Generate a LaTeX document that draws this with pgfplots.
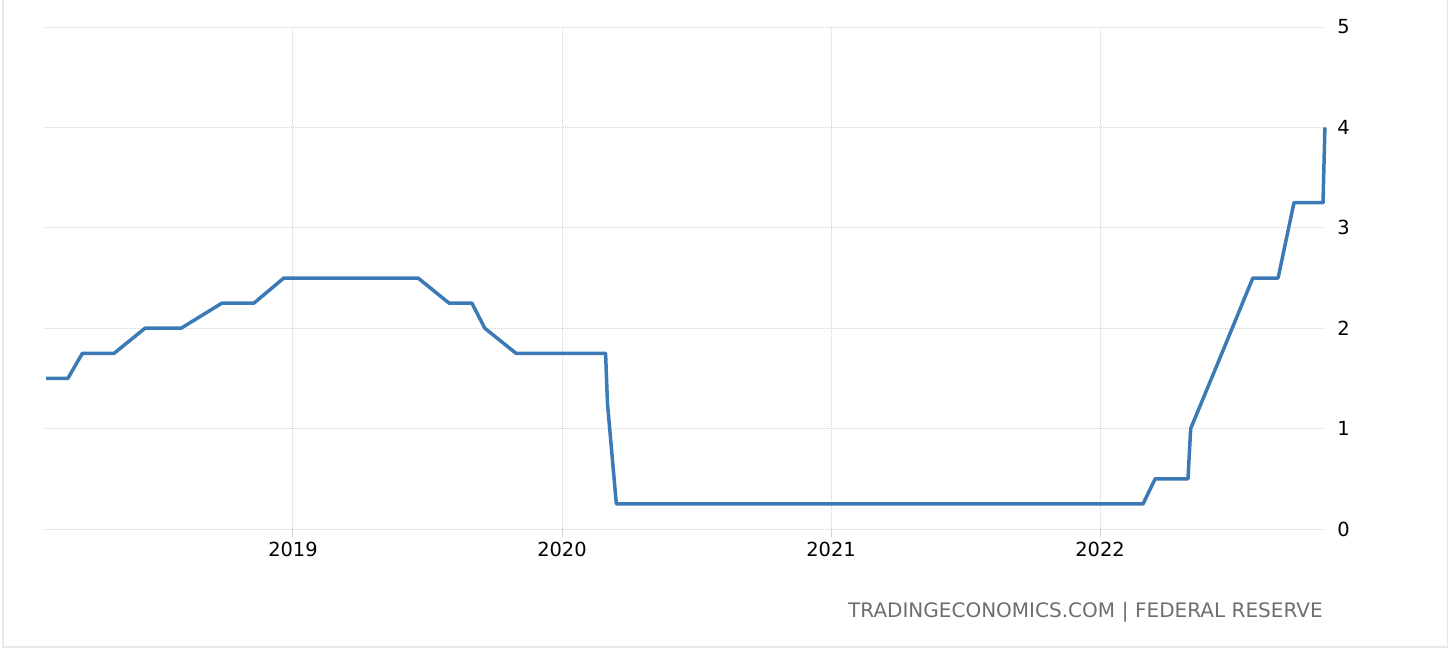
\documentclass[border=0pt]{standalone}
\usepackage{pgfplots}
\pgfplotsset{compat=1.18}
\usepackage{fontspec}
\setmainfont{DejaVu Sans}
\definecolor{teline}{RGB}{59,122,182}
\definecolor{tegrid}{RGB}{212,212,212}
\definecolor{tetext}{RGB}{110,110,110}
\definecolor{teframe}{RGB}{232,232,232}
\begin{document}
\begin{tikzpicture}
\useasboundingbox (0pt,0pt) rectangle (728pt,-330pt);
\draw[teframe, line width=0.8pt] (1.5pt,2pt) -- (1.5pt,-323.5pt) -- (723.8pt,-323.5pt) -- (723.8pt,2pt);
\begin{axis}[
  at={(22.5pt,-264.5pt)}, anchor=south west,
  scale only axis, width=640pt, height=251pt,
  xmin=2018.0781, xmax=2022.8364, ymin=0, ymax=5,
  axis line style={draw=none},
  xtick={2019,2020,2021,2022},
  xticklabels={2019,2020,2021,2022},
  ytick={0,1,2,3,4,5},
  yticklabel pos=right,
  xtick pos=bottom,
  tick align=outside,
  x tick style={draw=tegrid, line width=0.5pt},
  y tick style={draw=none},
  major tick length=4pt,
  grid=major,
  major grid style={draw=tegrid, line width=0.5pt, dash pattern=on 0.5pt off 0.5pt},
  /pgf/number format/assume math mode=true,
  xticklabel style={font=\fontsize{9.7pt}{11pt}\selectfont, text=black, inner sep=0pt, yshift=-2.5pt},
  yticklabel style={font=\fontsize{9.7pt}{11pt}\selectfont, text=black, anchor=west, inner sep=0pt, xshift=2pt},
  clip=false,
]
\addplot[teline, line width=1.75pt, line join=round, sharp plot] coordinates {
(2018.082,1.5) (2018.163,1.5) (2018.217,1.75) (2018.335,1.75)
(2018.450,2.0) (2018.584,2.0) (2018.736,2.25) (2018.855,2.25)
(2018.966,2.5) (2019.465,2.5) (2019.580,2.25) (2019.665,2.25)
(2019.713,2.0) (2019.829,1.75) (2020.162,1.75) (2020.169,1.25)
(2020.202,0.25) (2022.160,0.25) (2022.205,0.5) (2022.327,0.5)
(2022.337,1.0) (2022.453,1.75) (2022.568,2.5) (2022.662,2.5)
(2022.721,3.25) (2022.829,3.25) (2022.836,4.0)
};
\end{axis}
\node[anchor=base east, inner sep=0pt, text=tetext, font=\fontsize{10pt}{11pt}\selectfont] at (661.5pt,-308.5pt) {TRADINGECONOMICS.COM\,\,|\,\,FEDERAL RESERVE};
\end{tikzpicture}
\end{document}
